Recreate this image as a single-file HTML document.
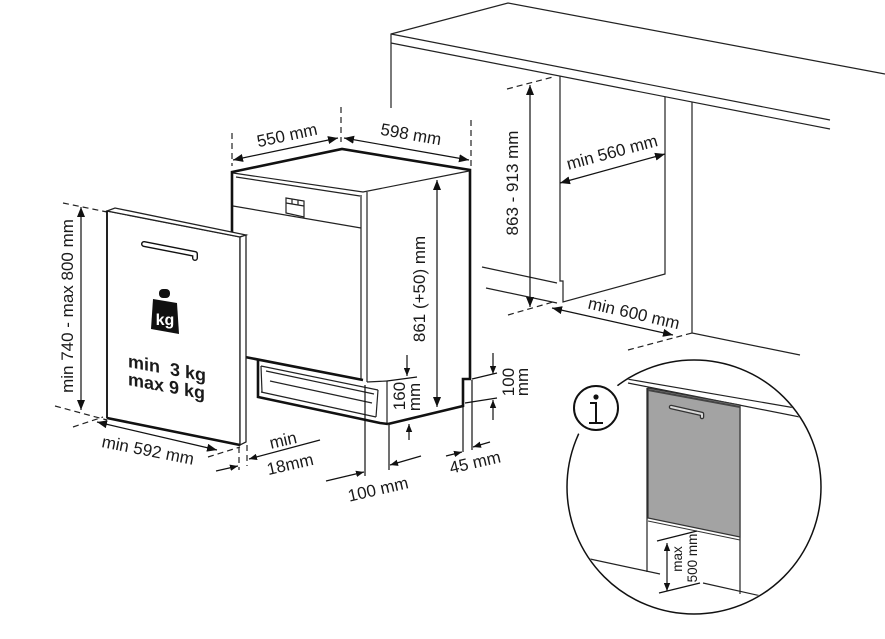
<!DOCTYPE html>
<html><head><meta charset="utf-8"><style>
html,body{margin:0;padding:0;background:#fff;}
svg{display:block;}
text{font-family:"Liberation Sans",Arial,sans-serif;fill:#1a1a1a;}
</style></head><body>
<svg width="885" height="639" viewBox="0 0 885 639" xmlns="http://www.w3.org/2000/svg">
<defs>
<marker id="ar" viewBox="0 0 10 8" refX="10" refY="4" markerWidth="10" markerHeight="8" markerUnits="userSpaceOnUse" orient="auto-start-reverse"><path d="M0,0 L10,4 L0,8 z" fill="#111"/></marker>
<marker id="as" viewBox="0 0 10 8" refX="10" refY="4" markerWidth="8" markerHeight="6.5" markerUnits="userSpaceOnUse" orient="auto-start-reverse"><path d="M0,0 L10,4 L0,8 z" fill="#111"/></marker>
<clipPath id="cc"><circle cx="694" cy="487" r="126"/></clipPath>
</defs>

<!-- worktop & cabinet -->
<g stroke="#222" stroke-width="1.2" fill="none">
<polyline points="391,108 391,34 508,3 885,74"/>
<line x1="391" y1="34" x2="830" y2="120"/>
<line x1="391" y1="43" x2="830" y2="129"/>
<polyline points="560,76 560,281 563,281 563,302 665,274 665,97"/>
<line x1="482" y1="267" x2="557" y2="283"/>
<line x1="486" y1="288" x2="557" y2="303"/>
<polyline points="692,102 692,333 800,355"/>
</g>
<g stroke="#222" stroke-width="1.2" fill="none" stroke-dasharray="6 4">
<line x1="628" y1="350" x2="692" y2="333"/>
<line x1="507" y1="89" x2="553" y2="77"/>
<line x1="508" y1="315" x2="553" y2="302"/>
<line x1="232" y1="133" x2="232" y2="166"/>
<line x1="341" y1="107" x2="341" y2="142"/>
<line x1="471" y1="120" x2="471" y2="168"/>
<line x1="63" y1="203" x2="107" y2="212"/>
<line x1="55" y1="406" x2="107" y2="420"/>
<line x1="73" y1="427" x2="103" y2="417"/>
<line x1="208" y1="457" x2="240" y2="447"/>
<line x1="239" y1="447" x2="239" y2="470"/>
<line x1="247" y1="445" x2="247" y2="466"/>
</g>

<!-- dimension lines -->
<g stroke="#111" stroke-width="1.2" fill="none">
<line x1="530" y1="85" x2="530" y2="307" marker-start="url(#ar)" marker-end="url(#ar)"/>
<line x1="560" y1="183" x2="665" y2="154" marker-start="url(#ar)" marker-end="url(#ar)"/>
<line x1="552" y1="308" x2="673" y2="335" marker-start="url(#ar)" marker-end="url(#ar)"/>
<line x1="233" y1="160" x2="338" y2="138" marker-start="url(#ar)" marker-end="url(#ar)"/>
<line x1="344" y1="138" x2="469" y2="160" marker-start="url(#ar)" marker-end="url(#ar)"/>
<line x1="437" y1="180" x2="437" y2="407" marker-start="url(#ar)" marker-end="url(#ar)"/>
<line x1="81" y1="207" x2="81" y2="410" marker-start="url(#ar)" marker-end="url(#ar)"/>
<line x1="97" y1="422" x2="217" y2="450" marker-start="url(#ar)" marker-end="url(#ar)"/>
</g>

<!-- dishwasher body -->
<g stroke="#222" stroke-width="1.2" fill="none">
<polyline points="233,173 363,192 469,171"/>
<line x1="236" y1="177" x2="360" y2="196"/>
<line x1="233" y1="206" x2="361" y2="228"/>
<line x1="361" y1="195" x2="361" y2="380"/>
<line x1="367" y1="192" x2="367" y2="382"/>
<line x1="367" y1="382" x2="387" y2="381"/>
<line x1="387" y1="381" x2="387" y2="424"/>
<polygon points="286,198 304,201 304,217 286,213"/>
<line x1="286" y1="203" x2="304" y2="206"/>
<line x1="292" y1="199" x2="292" y2="204"/>
<line x1="298" y1="200" x2="298" y2="205"/>
<line x1="261" y1="366" x2="378" y2="390"/>
<line x1="266" y1="371" x2="374" y2="394"/>
<line x1="270" y1="381" x2="372" y2="403"/>
<line x1="261" y1="392" x2="376" y2="417"/>
<line x1="261" y1="366" x2="262" y2="392"/>
<line x1="378" y1="390" x2="376" y2="417"/>
</g>
<g stroke="#111" stroke-width="2.6" fill="none" stroke-linejoin="miter">
<polyline points="232,250 232,172 342,149 470,170 470,379 463,379 463,406 388,424"/>
<polyline points="245,357 363,380"/>
<polyline points="258,360 258,397 380,423 388,424"/>
</g>

<!-- small dims near base -->
<g stroke="#111" stroke-width="1.2" fill="none">
<line x1="407" y1="355" x2="407" y2="376" marker-end="url(#as)"/>
<line x1="409" y1="440" x2="409" y2="424" marker-end="url(#as)"/>
<line x1="387" y1="381" x2="417" y2="377"/>
<line x1="493" y1="353" x2="493" y2="374" marker-end="url(#as)"/>
<line x1="493" y1="420" x2="493" y2="400" marker-end="url(#as)"/>
<line x1="472" y1="379" x2="497" y2="373"/>
<line x1="465" y1="403" x2="497" y2="398"/>
<line x1="463" y1="406" x2="463" y2="452"/>
<line x1="472" y1="380" x2="472" y2="450"/>
<line x1="446" y1="456" x2="462" y2="452" marker-end="url(#as)"/>
<line x1="490" y1="442" x2="473" y2="447" marker-end="url(#as)"/>
<line x1="365" y1="385" x2="365" y2="476"/>
<line x1="389" y1="424" x2="389" y2="470"/>
<line x1="326" y1="481" x2="364" y2="472" marker-end="url(#as)"/>
<line x1="421" y1="456" x2="390" y2="465" marker-end="url(#as)"/>
<line x1="216" y1="471" x2="238" y2="466" marker-end="url(#as)"/>
<line x1="320" y1="440" x2="249" y2="459" marker-end="url(#as)"/>
</g>

<!-- door panel -->
<g stroke="#222" stroke-width="1.3" fill="#fff">
<polygon points="107,211 240,237 240,445 107,418"/>
<polygon points="107,211 115,208 246,235 240,237"/>
<polygon points="240,237 246,235 246,442 240,445"/>
</g>
<line x1="107" y1="211" x2="107" y2="418" stroke="#111" stroke-width="1.8"/>
<line x1="107" y1="418" x2="240" y2="445" stroke="#111" stroke-width="2.6"/>
<path d="M144,244 L195,254 L195,258" stroke="#111" stroke-width="6" fill="none" stroke-linecap="round" stroke-linejoin="round"/>
<path d="M144,244 L195,254 L195,258" stroke="#fff" stroke-width="3.2" fill="none" stroke-linecap="round" stroke-linejoin="round"/>
<!-- kg weight -->
<rect x="159" y="289" width="11" height="9" rx="4" fill="#111"/>
<polygon points="153,299 177,303 179,334 151,329" fill="#111"/>
<text x="165" y="325" text-anchor="middle" font-size="16" font-weight="bold" style="fill:#fff">kg</text>
<g font-size="18" font-weight="bold">
<text transform="translate(128,367) skewY(10.6)">min&#160;&#160;3 kg</text>
<text transform="translate(128,385) skewY(10.6)">max 9 kg</text>
</g>

<!-- labels -->
<g font-size="17" text-anchor="middle">
<text transform="translate(287,135) rotate(-12)" y="6">550 mm</text>
<text transform="translate(411,134) rotate(10)" y="6">598 mm</text>
<text transform="translate(419,289) rotate(-90)" y="6">861 (+50) mm</text>
<text transform="translate(512,183) rotate(-90)" y="6">863 - 913 mm</text>
<text transform="translate(612,152) rotate(-15)" y="6">min 560 mm</text>
<text transform="translate(634,313) rotate(13)" y="6">min 600 mm</text>
<text transform="translate(67,306) rotate(-90)" y="6">min 740 - max 800 mm</text>
<text transform="translate(148,450) rotate(11)" y="6">min 592 mm</text>
<text transform="translate(283,440) rotate(-13)" y="6">min</text>
<text transform="translate(290,464) rotate(-13)" y="6">18mm</text>
<text transform="translate(378,489) rotate(-13)" y="6">100 mm</text>
<text transform="translate(475,462) rotate(-13)" y="6">45 mm</text>
<text transform="translate(399,396) rotate(-90)" y="6">160</text>
<text transform="translate(414,397) rotate(-90)" y="6">mm</text>
<text transform="translate(508,382) rotate(-90)" y="6">100</text>
<text transform="translate(522,382) rotate(-90)" y="6">mm</text>
</g>

<!-- inset -->
<g clip-path="url(#cc)">
<g stroke="#222" stroke-width="1.2" fill="none">
<line x1="627" y1="379" x2="830" y2="414"/>
<line x1="628" y1="383" x2="830" y2="423"/>
<line x1="647" y1="388" x2="647" y2="572"/>
<line x1="740" y1="405" x2="740" y2="594"/>
<line x1="590" y1="559" x2="660" y2="574"/>
<line x1="703" y1="583" x2="770" y2="598"/>
</g>
<polygon points="648,388 740,405 740,537 648,518" fill="#a3a3a3" stroke="#333" stroke-width="1.2"/>
<line x1="648" y1="390" x2="740" y2="407" stroke="#444" stroke-width="2"/>
<line x1="648" y1="521" x2="740" y2="540" stroke="#333" stroke-width="1"/>
<path d="M671,407 L702,414 L702,417" stroke="#333" stroke-width="4.5" fill="none" stroke-linecap="round" stroke-linejoin="round"/>
<path d="M671,407 L702,414 L702,417" stroke="#d8d8d8" stroke-width="2" fill="none" stroke-linecap="round" stroke-linejoin="round"/>
<g stroke="#111" stroke-width="1.2" fill="none">
<line x1="657" y1="541" x2="697" y2="531"/>
<line x1="659" y1="593" x2="700" y2="583"/>
<line x1="667" y1="543" x2="667" y2="591" marker-start="url(#as)" marker-end="url(#as)"/>
</g>
<g font-size="13.5" text-anchor="middle">
<text transform="translate(678,559) rotate(-90)" y="4">max</text>
<text transform="translate(692,558) rotate(-90)" y="5">500 mm</text>
</g>
</g>
<circle cx="694" cy="487" r="127" fill="none" stroke="#111" stroke-width="1.5"/>
<circle cx="596" cy="408" r="31" fill="#fff"/>
<circle cx="596" cy="408" r="22" fill="#fff" stroke="#111" stroke-width="2"/>
<circle cx="596" cy="397" r="2.6" fill="#111"/>
<path d="M590,403 H596 V423 M589,423 H603" stroke="#111" stroke-width="2" fill="none"/>
</svg>
</body></html>
